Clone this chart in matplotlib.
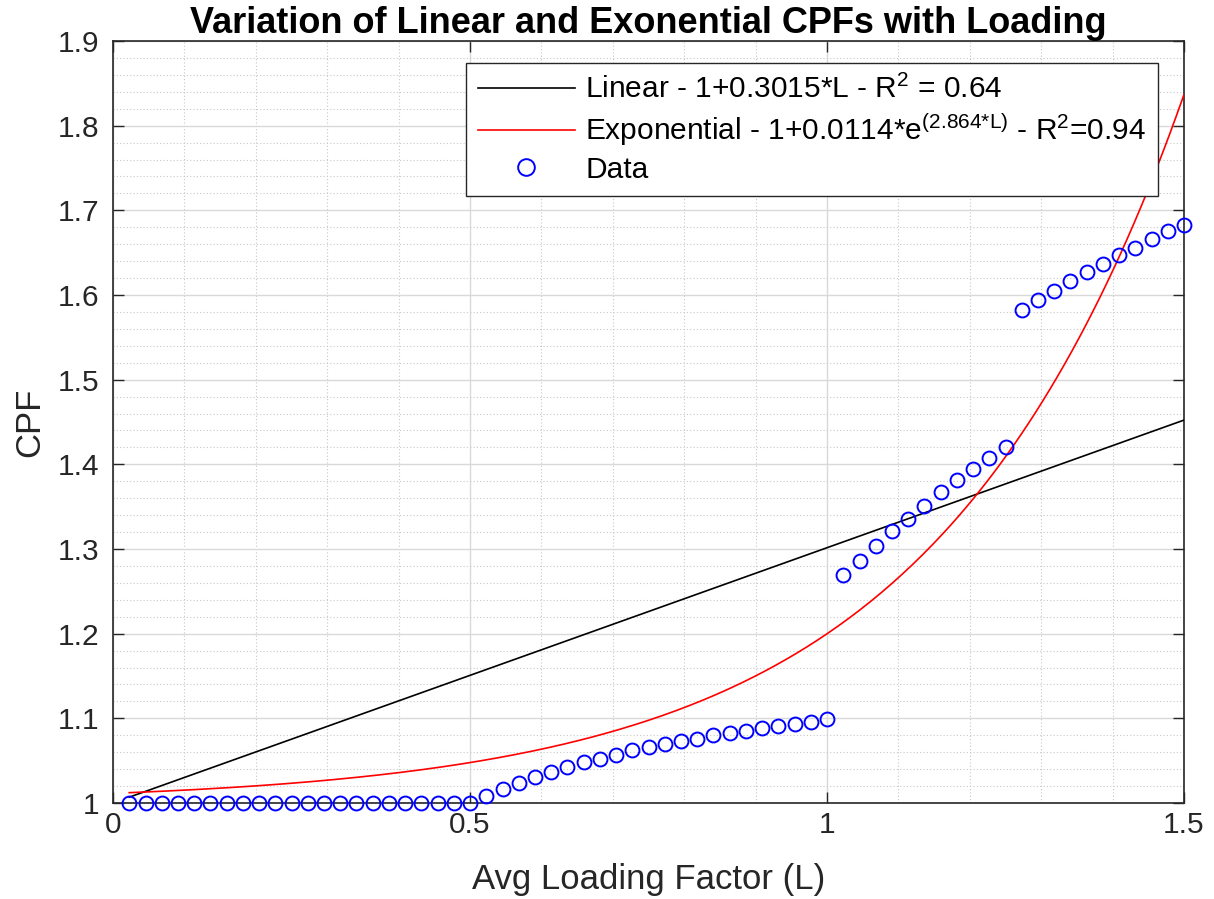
import matplotlib
matplotlib.use("Agg")
import matplotlib.pyplot as plt
import numpy as np
from matplotlib.ticker import MultipleLocator

plt.rcParams['font.family'] = ['Liberation Sans', 'DejaVu Sans']
plt.rcParams['mathtext.fontset'] = 'custom'
plt.rcParams['mathtext.rm'] = 'Liberation Sans'
plt.rcParams['mathtext.it'] = 'Liberation Sans'
plt.rcParams['mathtext.default'] = 'regular'

# ---- data ----
load_x = [0.0227, 0.0455, 0.0682, 0.0909, 0.1136, 0.1364, 0.1591, 0.1818, 0.2045, 0.2273,
          0.2500, 0.2727, 0.2955, 0.3182, 0.3409, 0.3636, 0.3864, 0.4091, 0.4318, 0.4545,
          0.4773, 0.5000,
          0.5227, 0.5455, 0.5682, 0.5909, 0.6136, 0.6364, 0.6591, 0.6818, 0.7045, 0.7273,
          0.7500, 0.7727, 0.7955, 0.8182, 0.8409, 0.8636, 0.8864, 0.9091, 0.9318, 0.9545,
          0.9773, 1.0000,
          1.0227, 1.0455, 1.0682, 1.0909, 1.1136, 1.1364, 1.1591, 1.1818, 1.2045, 1.2273,
          1.2500,
          1.2727, 1.2955, 1.3182, 1.3409, 1.3636, 1.3864, 1.4091, 1.4318, 1.4545, 1.4773,
          1.5000]
cpf_seg1 = [1.0] * 22
cpf_seg2 = [1.008, 1.016, 1.024, 1.031, 1.037, 1.042, 1.048, 1.052, 1.057, 1.062, 1.066,
            1.070, 1.073, 1.076, 1.080, 1.083, 1.085, 1.088, 1.091, 1.093, 1.096, 1.099]
cpf_seg3 = [1.269, 1.286, 1.303, 1.321, 1.336, 1.351, 1.367, 1.381, 1.394, 1.407, 1.420]
cpf_seg4 = [1.582, 1.594, 1.605, 1.616, 1.627, 1.637, 1.647, 1.656, 1.666, 1.675, 1.683]
cpf = cpf_seg1 + cpf_seg2 + cpf_seg3 + cpf_seg4

lin_slope = 0.3015
exp_a = 0.0114
exp_b = 2.864

lin_label = r"Linear - 1+0.3015*L - R$^{2}$ = 0.64"
exp_label = r"Exponential - 1+0.0114*e$^{(2.864{*}L)}$ - R$^{2}$=0.94"
data_label = "Data"
title = "Variation of Linear and Exonential CPFs with Loading"
xlabel = "Avg Loading Factor (L)"
ylabel = "CPF"
xticks = [0, 0.5, 1, 1.5]
xticklabels = ["0", "0.5", "1", "1.5"]
yticks = [1, 1.1, 1.2, 1.3, 1.4, 1.5, 1.6, 1.7, 1.8, 1.9]
yticklabels = ["1", "1.1", "1.2", "1.3", "1.4", "1.5", "1.6", "1.7", "1.8", "1.9"]

# ---- figure ----
fig = plt.figure(figsize=(12.14, 8.99), dpi=100)
ax = fig.add_axes([0.0931, 0.1068, 0.8822, 0.8476])

L = np.linspace(load_x[0], load_x[-1], 300)
ax.plot(L, 1 + lin_slope * L, color='black', lw=1.2, label=lin_label, zorder=3)
ax.plot(L, 1 + exp_a * np.exp(exp_b * L), color='red', lw=1.2, label=exp_label, zorder=3)
ax.plot(load_x, cpf, 'o', mfc='none', mec='blue', ms=10, mew=1.4, label=data_label,
        zorder=4, clip_on=False)

ax.set_xlim(0, 1.5)
ax.set_ylim(1, 1.9)
ax.set_xticks(xticks)
ax.set_xticklabels(xticklabels)
ax.set_yticks(yticks)
ax.set_yticklabels(yticklabels)
ax.xaxis.set_minor_locator(MultipleLocator(0.1))
ax.yaxis.set_minor_locator(MultipleLocator(0.02))

ax.grid(which='major', color='#d9d9d9', lw=1.0, ls='-')
ax.grid(which='minor', color='#c8c8c8', lw=0.8, ls=(0, (1, 2)))
ax.set_axisbelow(True)

ax.tick_params(which='major', direction='in', length=8, width=1.0, top=True, right=True,
               labelsize=21.5, colors='#262626', labelcolor='#262626')
ax.tick_params(axis='x', which='major', pad=6)
ax.tick_params(axis='y', which='major', pad=10)
ax.tick_params(which='minor', length=0, top=True, right=True)
for s in ax.spines.values():
    s.set_color('#262626')
    s.set_linewidth(1.2)

ax.set_title(title, fontsize=26, fontweight='bold', pad=4)
ax.set_xlabel(xlabel, fontsize=25, color='#262626', labelpad=17)
ax.set_ylabel(ylabel, fontsize=25, color='#262626', labelpad=8)

leg = ax.legend(loc='upper right', bbox_to_anchor=(0.9757, 0.971), borderaxespad=0,
                fontsize=21.5, frameon=True, fancybox=False, edgecolor='#262626',
                framealpha=1, handlelength=3.25, handletextpad=0.35, borderpad=0.4,
                labelspacing=0.25, markerscale=1.2)
leg.get_frame().set_linewidth(1.0)

fig.savefig("out.png", dpi=100)
